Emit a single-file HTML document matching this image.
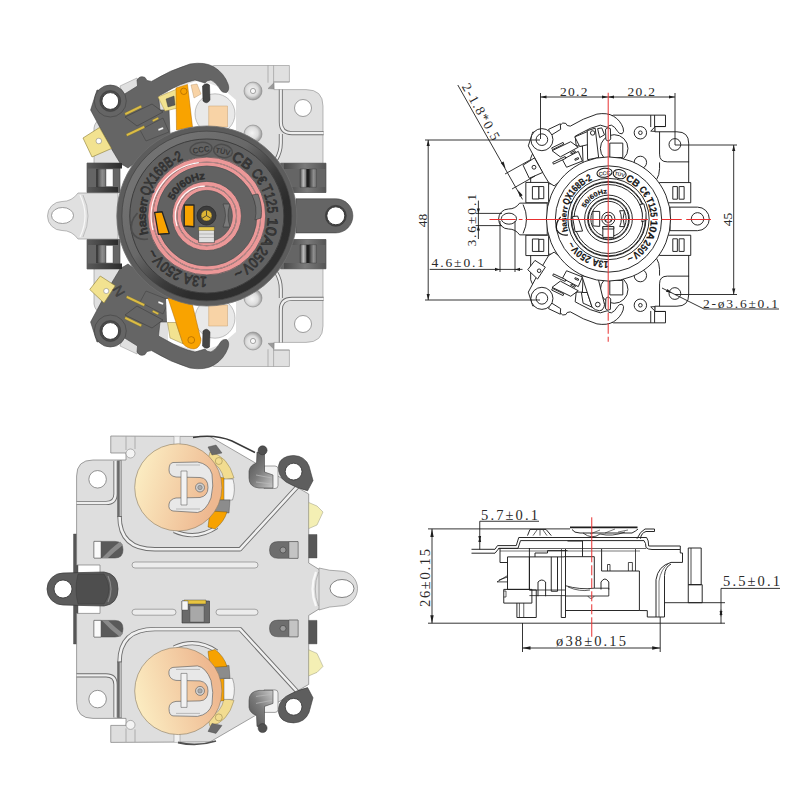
<!DOCTYPE html>
<html><head><meta charset="utf-8"><style>
html,body{margin:0;padding:0;background:#fff;}
svg{display:block;}
</style></head><body>
<svg width="800" height="800" viewBox="0 0 800 800" font-family="Liberation Sans, sans-serif">
<defs>
<linearGradient id="gold" x1="0" y1="0" x2="1" y2="0.3"><stop offset="0" stop-color="#fdf3c8"/><stop offset="1" stop-color="#eeb890"/></linearGradient>
<linearGradient id="rimg" x1="0.2" y1="0.15" x2="0.85" y2="0.8"><stop offset="0" stop-color="#727272"/><stop offset="0.35" stop-color="#686868"/><stop offset="0.62" stop-color="#3a3a3a"/><stop offset="0.8" stop-color="#2c2c2c"/><stop offset="1" stop-color="#2e2e2e"/></linearGradient>
<linearGradient id="cylA" x1="0" y1="0" x2="1" y2="0"><stop offset="0" stop-color="#4a4a4a"/><stop offset="0.5" stop-color="#bdbdbd"/><stop offset="1" stop-color="#6a6a6a"/></linearGradient>
<linearGradient id="cylB" x1="0" y1="0" x2="1" y2="0"><stop offset="0" stop-color="#222"/><stop offset="0.2" stop-color="#555"/><stop offset="0.6" stop-color="#8e8e8e"/><stop offset="1" stop-color="#707070"/></linearGradient>
<linearGradient id="bandL" x1="0" y1="0" x2="1" y2="0"><stop offset="0" stop-color="#5a5a5a"/><stop offset="1" stop-color="#2c2c2c"/></linearGradient>
<linearGradient id="bandR" x1="0" y1="0" x2="1" y2="0"><stop offset="0" stop-color="#4a4a4a"/><stop offset="0.5" stop-color="#7a7a7a"/><stop offset="1" stop-color="#555"/></linearGradient>
<radialGradient id="bump" cx="0.45" cy="0.45" r="0.55"><stop offset="0" stop-color="#f4f4f4"/><stop offset="0.6" stop-color="#dcdcdc"/><stop offset="1" stop-color="#9a9a9a"/></radialGradient>
<linearGradient id="lever" x1="0" y1="0" x2="1" y2="1"><stop offset="0" stop-color="#4e4e4e"/><stop offset="0.5" stop-color="#7a7a7a"/><stop offset="1" stop-color="#c8c8c8"/></linearGradient>
</defs>
<rect width="800" height="800" fill="#fff"/>
<g stroke-linejoin="round"><g><path d="M94,165 L94,128 Q95,121 101,119 L120,100 L214,65.5 L289.4,65.5 L289.4,82 L273.6,82 L274,89.6 L306,89.6 Q323,89.6 323,106 L323,165 Z" fill="#e0e0e0" stroke="#8e8e8e" stroke-width="0.6" /><path d="M280.8,89.6 L280.8,122 Q280.8,133.2 292,133.2 L323.6,133.2" fill="none" stroke="#6e6e6e" stroke-width="4.0" /><path d="M280.8,89.6 L280.8,122 Q280.8,133.2 292,133.2 L323.6,133.2" fill="none" stroke="#efefef" stroke-width="2.2" /><path d="M280.8,134 L280.8,143 Q280.8,152 276,160" fill="none" stroke="#6e6e6e" stroke-width="4.0" /><path d="M280.8,134 L280.8,143 Q280.8,152 276,160" fill="none" stroke="#efefef" stroke-width="2.2" /><path d="M268,65.5 L268,82.7 M273.6,65.5 L273.6,82 L289.4,82" fill="none" stroke="#909090" stroke-width="0.6" /><path d="M268,88.6 L274,82.7 L274,89 Z" fill="#9a9a9a" stroke="#777" stroke-width="0.4" /><circle cx="303" cy="108" r="8.5" fill="#ffffff" stroke="#777" stroke-width="0.7" /><circle cx="253" cy="91" r="9" fill="url(#bump)" stroke="#8a8a8a" stroke-width="0.6" /><circle cx="253" cy="91" r="2.6" fill="#f8f8f8" stroke="#707070" stroke-width="0.6" /><circle cx="253" cy="134" r="9" fill="url(#bump)" stroke="#8a8a8a" stroke-width="0.6" /><path d="M168,90 L200,80 L222,88 L236,100 L236,130 L168,132 Z" fill="#ffffff" stroke="none" stroke-width="0" /><circle cx="215" cy="113.8" r="20" fill="#e9e9e9" stroke="#9a9a9a" stroke-width="0.6" /><path d="M208.7,106 L227.5,106 L227.5,127 L208.7,127 Z" fill="#f8d3a6" stroke="#c9a070" stroke-width="0.5" /><path d="M191,85 L197,84 L201,94 L194,98 Z" fill="#f8d3a6" stroke="#b08a60" stroke-width="0.4" /><path d="M120,86 L137,78 L141,93 L124,100 Z" fill="#e0e0e0" stroke="#8e8e8e" stroke-width="0.5" /><path d="M90.6,110 L97,90 L123,95 L137.5,86 L137,80 Q140,75 145,77.5 L147,80.5 L151.5,81.4 Q170,70 190,64 Q205,61.5 214,67 Q224,73 228,84 Q230,90 226.5,92.5 Q222,93 220,89 Q216,82 211,80 Q207,80 205,83 L195,80 Q181,83 165,92.5 L158.5,96 L160,110 L169,110 L170,136 L128,168 L120,163 L111,148 Z" fill="#656565" stroke="#424242" stroke-width="0.6" /><circle cx="110.3" cy="101" r="16" fill="#656565" stroke="#424242" stroke-width="0.6" /><circle cx="110.3" cy="101" r="10.5" fill="#4a4a4a" stroke="#3a3a3a" stroke-width="0.5" /><circle cx="110.3" cy="101" r="8.4" fill="#ffffff" stroke="#2e2e2e" stroke-width="0.9" /><path d="M125,117 L152,104 L163,112 L137,126 Z" fill="none" stroke="#434343" stroke-width="0.7" /><path d="M140,130 L163,118 L169,132 L146,141 Z" fill="none" stroke="#434343" stroke-width="0.6" /><path d="M124.5,113 L141,105 L142,107.5 L125.5,115.5 Z" fill="#dcbc44" stroke="#5a5a40" stroke-width="0.4" /><path d="M126,134 L144,125.5 L145,128 L127,136.5 Z" fill="#dcbc44" stroke="#5a5a40" stroke-width="0.4" /><path d="M152,120 L158,117 L159,119 L153,122 Z" fill="#dcbc44" stroke="#5a5a40" stroke-width="0.4" /><path d="M158,129 L163,127 L163.5,129 L158.5,131 Z" fill="#ffffff" stroke="#555" stroke-width="0.3" /><path d="M202.5,86 Q206,82 209.5,85 L210,100 Q207,105 203,101 Z" fill="#454545" stroke="#222" stroke-width="0.5" /><path d="M87,163 L120,163 L120,192.5 L87,192.5 Z" fill="#656565" stroke="#424242" stroke-width="0.6" /><path d="M87,163 L122,163 L122,168.5 L87,168.5 Z" fill="url(#bandL)" stroke="none" stroke-width="0" /><path d="M87,187 L118,187 L118,192.5 L87,192.5 Z" fill="url(#bandL)" stroke="none" stroke-width="0" /><path d="M96.5,169 L106,169 L106,187 L96.5,187 Z" fill="url(#cylB)" stroke="#333" stroke-width="0.4" /><path d="M106,169 L113,169 L113,186.5 L106,186.5 Z" fill="#fbfbfb" stroke="#444" stroke-width="0.4" /><path d="M280.6,163.2 L326,163.2 L326,192.5 L280.6,192.5 Z" fill="#656565" stroke="#424242" stroke-width="0.6" /><path d="M284,163.2 L326,163.2 L326,169 L284,169 Z" fill="url(#bandR)" stroke="none" stroke-width="0" /><path d="M288,187 L326,187 L326,192.5 L288,192.5 Z" fill="url(#bandR)" stroke="none" stroke-width="0" /><path d="M300,169 L306.6,169 L306.6,187.3 L300,187.3 Z" fill="url(#cylA)" stroke="#3a3a3a" stroke-width="0.4" /><path d="M306.6,169 L309.2,169 L309.2,187.3 L306.6,187.3 Z" fill="#1e1e1e" stroke="none" stroke-width="0" /><path d="M309.2,169 L316.4,169 L316.4,187.3 L309.2,187.3 Z" fill="url(#cylB)" stroke="#3a3a3a" stroke-width="0.4" /></g><g transform="translate(0,432) scale(1,-1)"><path d="M94,165 L94,128 Q95,121 101,119 L120,100 L214,65.5 L289.4,65.5 L289.4,82 L273.6,82 L274,89.6 L306,89.6 Q323,89.6 323,106 L323,165 Z" fill="#e0e0e0" stroke="#8e8e8e" stroke-width="0.6" /><path d="M280.8,89.6 L280.8,122 Q280.8,133.2 292,133.2 L323.6,133.2" fill="none" stroke="#6e6e6e" stroke-width="4.0" /><path d="M280.8,89.6 L280.8,122 Q280.8,133.2 292,133.2 L323.6,133.2" fill="none" stroke="#efefef" stroke-width="2.2" /><path d="M280.8,134 L280.8,143 Q280.8,152 276,160" fill="none" stroke="#6e6e6e" stroke-width="4.0" /><path d="M280.8,134 L280.8,143 Q280.8,152 276,160" fill="none" stroke="#efefef" stroke-width="2.2" /><path d="M268,65.5 L268,82.7 M273.6,65.5 L273.6,82 L289.4,82" fill="none" stroke="#909090" stroke-width="0.6" /><path d="M268,88.6 L274,82.7 L274,89 Z" fill="#9a9a9a" stroke="#777" stroke-width="0.4" /><circle cx="303" cy="108" r="8.5" fill="#ffffff" stroke="#777" stroke-width="0.7" /><circle cx="253" cy="91" r="9" fill="url(#bump)" stroke="#8a8a8a" stroke-width="0.6" /><circle cx="253" cy="91" r="2.6" fill="#f8f8f8" stroke="#707070" stroke-width="0.6" /><circle cx="253" cy="134" r="9" fill="url(#bump)" stroke="#8a8a8a" stroke-width="0.6" /><path d="M168,90 L200,80 L222,88 L236,100 L236,130 L168,132 Z" fill="#ffffff" stroke="none" stroke-width="0" /><circle cx="215" cy="113.8" r="20" fill="#e9e9e9" stroke="#9a9a9a" stroke-width="0.6" /><path d="M208.7,106 L227.5,106 L227.5,127 L208.7,127 Z" fill="#f8d3a6" stroke="#c9a070" stroke-width="0.5" /><path d="M191,85 L197,84 L201,94 L194,98 Z" fill="#f8d3a6" stroke="#b08a60" stroke-width="0.4" /><path d="M120,86 L137,78 L141,93 L124,100 Z" fill="#e0e0e0" stroke="#8e8e8e" stroke-width="0.5" /><path d="M90.6,110 L97,90 L123,95 L137.5,86 L137,80 Q140,75 145,77.5 L147,80.5 L151.5,81.4 Q170,70 190,64 Q205,61.5 214,67 Q224,73 228,84 Q230,90 226.5,92.5 Q222,93 220,89 Q216,82 211,80 Q207,80 205,83 L195,80 Q181,83 165,92.5 L158.5,96 L160,110 L169,110 L170,136 L128,168 L120,163 L111,148 Z" fill="#656565" stroke="#424242" stroke-width="0.6" /><circle cx="110.3" cy="101" r="16" fill="#656565" stroke="#424242" stroke-width="0.6" /><circle cx="110.3" cy="101" r="10.5" fill="#4a4a4a" stroke="#3a3a3a" stroke-width="0.5" /><circle cx="110.3" cy="101" r="8.4" fill="#ffffff" stroke="#2e2e2e" stroke-width="0.9" /><path d="M125,117 L152,104 L163,112 L137,126 Z" fill="none" stroke="#434343" stroke-width="0.7" /><path d="M140,130 L163,118 L169,132 L146,141 Z" fill="none" stroke="#434343" stroke-width="0.6" /><path d="M124.5,113 L141,105 L142,107.5 L125.5,115.5 Z" fill="#dcbc44" stroke="#5a5a40" stroke-width="0.4" /><path d="M126,134 L144,125.5 L145,128 L127,136.5 Z" fill="#dcbc44" stroke="#5a5a40" stroke-width="0.4" /><path d="M152,120 L158,117 L159,119 L153,122 Z" fill="#dcbc44" stroke="#5a5a40" stroke-width="0.4" /><path d="M158,129 L163,127 L163.5,129 L158.5,131 Z" fill="#ffffff" stroke="#555" stroke-width="0.3" /><path d="M202.5,86 Q206,82 209.5,85 L210,100 Q207,105 203,101 Z" fill="#454545" stroke="#222" stroke-width="0.5" /><path d="M87,163 L120,163 L120,192.5 L87,192.5 Z" fill="#656565" stroke="#424242" stroke-width="0.6" /><path d="M87,163 L122,163 L122,168.5 L87,168.5 Z" fill="url(#bandL)" stroke="none" stroke-width="0" /><path d="M87,187 L118,187 L118,192.5 L87,192.5 Z" fill="url(#bandL)" stroke="none" stroke-width="0" /><path d="M96.5,169 L106,169 L106,187 L96.5,187 Z" fill="url(#cylB)" stroke="#333" stroke-width="0.4" /><path d="M106,169 L113,169 L113,186.5 L106,186.5 Z" fill="#fbfbfb" stroke="#444" stroke-width="0.4" /><path d="M280.6,163.2 L326,163.2 L326,192.5 L280.6,192.5 Z" fill="#656565" stroke="#424242" stroke-width="0.6" /><path d="M284,163.2 L326,163.2 L326,169 L284,169 Z" fill="url(#bandR)" stroke="none" stroke-width="0" /><path d="M288,187 L326,187 L326,192.5 L288,192.5 Z" fill="url(#bandR)" stroke="none" stroke-width="0" /><path d="M300,169 L306.6,169 L306.6,187.3 L300,187.3 Z" fill="url(#cylA)" stroke="#3a3a3a" stroke-width="0.4" /><path d="M306.6,169 L309.2,169 L309.2,187.3 L306.6,187.3 Z" fill="#1e1e1e" stroke="none" stroke-width="0" /><path d="M309.2,169 L316.4,169 L316.4,187.3 L309.2,187.3 Z" fill="url(#cylB)" stroke="#3a3a3a" stroke-width="0.4" /></g><path d="M83,138 L99.5,127.5 L111.5,148.5 L92,157 Z" fill="#f2e290" stroke="#8a7a30" stroke-width="0.6" /><circle cx="98.8" cy="141" r="2.8" fill="#ffffff" stroke="#777" stroke-width="0.5" /><path d="M89.75,289.5 L100.25,276 L115.25,285.75 L104,303 Z" fill="#f2e290" stroke="#8a7a30" stroke-width="0.6" /><circle cx="106.25" cy="291" r="2.6" fill="#ffffff" stroke="#777" stroke-width="0.5" /><path d="M158,97 L177,89 L178,108 L165,111 Z" fill="#f2e290" stroke="#a89040" stroke-width="0.5" /><path d="M166,99 L174,96 L175,105 L168,107 Z" fill="#5a5a5a" stroke="#333" stroke-width="0.4" /><path d="M176,88 L187.5,84.4 L192.5,127 L176.5,130 Z" fill="#f9a300" stroke="#b06a00" stroke-width="0.5" /><circle cx="183.8" cy="91.3" r="3.2" fill="none" stroke="#9a5a00" stroke-width="0.6" /><path d="M166,299 L176,299 L176,322.5 L167,322.5 Z" fill="#ffffff" stroke="none" stroke-width="0" /><path d="M167.5,322.5 L176,322.5 L183,343.75 L170,338 Z" fill="#f2e290" stroke="#8a7a40" stroke-width="0.5" /><path d="M168,298 L192,303 L201,340 Q200.5,347.5 194,349 Q187,348.5 183,343.75 Z" fill="#f9a300" stroke="#b06a00" stroke-width="0.5" /><circle cx="191.25" cy="340" r="3.4" fill="none" stroke="#9a5a00" stroke-width="0.6" /><text x="0" y="0" font-size="14" fill="#444" stroke="#3a3a3a" stroke-width="0.4" transform="translate(112,289) rotate(60)">N</text><path d="M118,193 L78,193 Q72,201.5 62,201.5 A13.5,13.5 0 0 0 62,230.5 Q72,230.5 78,239 L118,239 Z" fill="#e0e0e0" stroke="#8e8e8e" stroke-width="0.6" /><path d="M80,195 Q90,216 80,237" fill="none" stroke="#f8f8f8" stroke-width="1.2" /><path d="M83,195 Q93,216 83,237" fill="none" stroke="#a4a4a4" stroke-width="0.6" /><ellipse cx="62.5" cy="215.5" rx="11" ry="8" fill="#fff" stroke="#777" stroke-width="0.7"/><path d="M296,198.8 L335.8,198.8 A17,17 0 0 1 335.8,232.9 L296,232.9 Z" fill="#656565" stroke="#424242" stroke-width="0.6" /><circle cx="335.8" cy="215.8" r="10.5" fill="#454545" stroke="#333" stroke-width="0.5" /><circle cx="335.8" cy="215.8" r="9" fill="#ffffff" stroke="#2e2e2e" stroke-width="0.9" /><circle cx="206.8" cy="216" r="90" fill="#5c5c5c" stroke="#707070" stroke-width="0.8" /><circle cx="206.8" cy="216" r="81" fill="none" stroke="url(#rimg)" stroke-width="7.6"/><circle cx="206.8" cy="216" r="84.9" fill="none" stroke="#404040" stroke-width="0.7" /><circle cx="206.8" cy="216" r="77" fill="#626262" stroke="#3a3a3a" stroke-width="0.9" /><circle cx="206.8" cy="216" r="56.6" fill="none" stroke="#ec9898" stroke-width="4.6"/><circle cx="206.8" cy="216" r="51.7" fill="none" stroke="#ec9898" stroke-width="3.4"/><circle cx="206.8" cy="216" r="32.4" fill="none" stroke="#ec9898" stroke-width="4.4"/><circle cx="206.8" cy="216" r="27.4" fill="none" stroke="#ec9898" stroke-width="3.6"/><circle cx="206.8" cy="216" r="54.1" fill="none" stroke="#b88888" stroke-width="1.0" /><circle cx="206.8" cy="216" r="29.9" fill="none" stroke="#b88888" stroke-width="1.0" /><circle cx="206.8" cy="216" r="58.9" fill="none" stroke="#4a5252" stroke-width="0.7" /><circle cx="206.8" cy="216" r="50.0" fill="none" stroke="#4a5252" stroke-width="0.7" /><circle cx="206.8" cy="216" r="34.6" fill="none" stroke="#4a5252" stroke-width="0.7" /><circle cx="206.8" cy="216" r="25.6" fill="none" stroke="#4a5252" stroke-width="0.7" /><path d="M152.9,230 A54,54 0 0 1 198.8,162.6" fill="none" stroke="#fff8f8" stroke-width="1.3" /><path d="M177.0,226 A29.9,29.9 0 0 1 204.8,186.2" fill="none" stroke="#fff8f8" stroke-width="1.2" /><path d="M154.6,212.5 L162.1,211.75 L169.25,233.5 L158.4,234.25 Z" fill="#f9a300" stroke="#262626" stroke-width="1.3" /><path d="M184.25,205 L194,205 L194,226.75 L184.25,226 Z" fill="#f9a300" stroke="#262626" stroke-width="1.3" /><path d="M223,204 Q228,215.5 223,227 L230,227 Q226,215.5 230,204 Z" fill="#7a7a7a" stroke="#333" stroke-width="0.5" /><path d="M252,195 Q258,207 255,220 L261,218 Q263,207 258,194 Z" fill="#727272" stroke="#333" stroke-width="0.5" /><path d="M198.6,227 L214.4,227 L214.4,242.7 L198.6,242.7 Z" fill="#e0e0e0" stroke="#333" stroke-width="0.6" /><path d="M198.6,227 L214.4,227 L214.4,230.5 L198.6,230.5 Z" fill="#e6c648" stroke="#333" stroke-width="0.3" /><path d="M199,234 L214,234 M199,237.5 L214,237.5" fill="none" stroke="#9a9a9a" stroke-width="0.6" /><circle cx="206.5" cy="215.6" r="9.5" fill="#3c3c3c" stroke="#222" stroke-width="0.6" /><circle cx="206.5" cy="215.6" r="5.5" fill="#dcb434" stroke="#333" stroke-width="0.5" /><path d="M206.5,215.6 L206.5,210.5 M206.5,215.6 L202,218.3 M206.5,215.6 L211,218.3" fill="none" stroke="#333" stroke-width="0.8" /><path id="p1a1" d="M206.80,277.00 A61,61 0 1,1 206.80,155.00 A61,61 0 1,1 206.80,277.00" fill="none"/><path id="p1a2" d="M206.80,253.00 A37,37 0 1,1 206.80,179.00 A37,37 0 1,1 206.80,253.00" fill="none"/><text font-size="14.5" font-weight="normal" fill="#4c4c4c" stroke="#323232" stroke-width="0.9"><textPath href="#p1a1" startOffset="115.5" textLength="52" lengthAdjust="spacingAndGlyphs">QX168B-2</textPath></text><text font-size="14.5" font-weight="normal" fill="#4c4c4c" stroke="#323232" stroke-width="0.9"><textPath href="#p1a1" startOffset="216.1" textLength="20" lengthAdjust="spacingAndGlyphs">CB</textPath></text><text font-size="14" font-weight="normal" fill="#4c4c4c" stroke="#323232" stroke-width="0.9"><textPath href="#p1a1" startOffset="240.1" textLength="15" lengthAdjust="spacingAndGlyphs">C€</textPath></text><text font-size="14.5" font-weight="normal" fill="#4c4c4c" stroke="#323232" stroke-width="0.9"><textPath href="#p1a1" startOffset="257.6" textLength="27" lengthAdjust="spacingAndGlyphs">T125</textPath></text><text font-size="14.5" font-weight="normal" fill="#4c4c4c" stroke="#323232" stroke-width="0.9"><textPath href="#p1a1" startOffset="288.5" textLength="28" lengthAdjust="spacingAndGlyphs">10A</textPath></text><text font-size="14.5" font-weight="normal" fill="#4c4c4c" stroke="#323232" stroke-width="0.9"><textPath href="#p1a1" startOffset="317.8" textLength="29" lengthAdjust="spacingAndGlyphs">250V</textPath></text><text font-size="13" font-weight="normal" fill="#4c4c4c" stroke="#323232" stroke-width="0.9"><textPath href="#p1a1" startOffset="348.1" textLength="8" lengthAdjust="spacingAndGlyphs">~</textPath></text><text font-size="14.5" font-weight="normal" fill="#4c4c4c" stroke="#323232" stroke-width="0.9"><textPath href="#p1a1" startOffset="0.0" textLength="54" lengthAdjust="spacingAndGlyphs">13A 250V</textPath></text><text font-size="13" font-weight="normal" fill="#4c4c4c" stroke="#323232" stroke-width="0.9"><textPath href="#p1a1" startOffset="54.3" textLength="8" lengthAdjust="spacingAndGlyphs">~</textPath></text><text font-size="9.5" font-weight="normal" fill="#4c4c4c" stroke="#323232" stroke-width="0.9"><textPath href="#p1a2" startOffset="74.3" textLength="40" lengthAdjust="spacingAndGlyphs">50/60Hz</textPath></text><text font-size="11.5" font-weight="normal" fill="#4c4c4c" stroke="#323232" stroke-width="0.9"><textPath href="#p1a1" startOffset="77.7" textLength="36" lengthAdjust="spacingAndGlyphs">haserr</textPath></text><ellipse cx="201" cy="149" rx="11" ry="6.5" fill="none" stroke="#4c4c4c" stroke-width="1.5" transform="rotate(-8 201 149)"/><ellipse cx="223" cy="151" rx="9.5" ry="6.5" fill="none" stroke="#4c4c4c" stroke-width="1.5" transform="rotate(12 223 151)"/><text x="201" y="152.5" font-size="8" font-weight="bold" fill="#3a3a3a" text-anchor="middle" transform="rotate(-8 201 149)">CCC</text><text x="223" y="154" font-size="7.5" font-weight="bold" fill="#3a3a3a" text-anchor="middle" transform="rotate(12 223 151)">TÜV</text><path d="M137.5,213 Q129,222 132,232 Q137,241 148,239" fill="none" stroke="#4c4c4c" stroke-width="1.7"/></g>
<g transform="translate(608.5,219) scale(0.69) translate(-206.8,-216)"><g stroke-linejoin="round"><g><path d="M94,165 L94,128 Q95,121 101,119 L120,100 L214,65.5 L289.4,65.5 L289.4,82 L273.6,82 L274,89.6 L306,89.6 Q323,89.6 323,106 L323,165 Z" fill="#ffffff" stroke="#1a1a1a" stroke-width="1.35" /><path d="M280.8,89.6 L280.8,122 Q280.8,133.2 292,133.2 L323.6,133.2" fill="none" stroke="#1a1a1a" stroke-width="1.35" /><path d="M280.8,134 L280.8,143 Q280.8,152 276,160" fill="none" stroke="#1a1a1a" stroke-width="1.35" /><path d="M268,65.5 L268,82.7 M273.6,65.5 L273.6,82 L289.4,82" fill="none" stroke="#1a1a1a" stroke-width="1.35" /><path d="M268,88.6 L274,82.7 L274,89 Z" fill="#ffffff" stroke="#1a1a1a" stroke-width="1.35" /><circle cx="303" cy="108" r="8.5" fill="#ffffff" stroke="#1a1a1a" stroke-width="1.35" /><circle cx="253" cy="91" r="9" fill="#ffffff" stroke="#1a1a1a" stroke-width="1.35" /><circle cx="253" cy="91" r="2.6" fill="#ffffff" stroke="#1a1a1a" stroke-width="1.35" /><circle cx="253" cy="134" r="9" fill="#ffffff" stroke="#1a1a1a" stroke-width="1.35" /><circle cx="215" cy="113.8" r="20" fill="#ffffff" stroke="#1a1a1a" stroke-width="1.35" /><path d="M208.7,106 L227.5,106 L227.5,127 L208.7,127 Z" fill="#ffffff" stroke="#1a1a1a" stroke-width="1.35" /><path d="M191,85 L197,84 L201,94 L194,98 Z" fill="#ffffff" stroke="#1a1a1a" stroke-width="1.35" /><path d="M120,86 L137,78 L141,93 L124,100 Z" fill="#ffffff" stroke="#1a1a1a" stroke-width="1.35" /><path d="M90.6,110 L97,90 L123,95 L137.5,86 L137,80 Q140,75 145,77.5 L147,80.5 L151.5,81.4 Q170,70 190,64 Q205,61.5 214,67 Q224,73 228,84 Q230,90 226.5,92.5 Q222,93 220,89 Q216,82 211,80 Q207,80 205,83 L195,80 Q181,83 165,92.5 L158.5,96 L160,110 L169,110 L170,136 L128,168 L120,163 L111,148 Z" fill="#ffffff" stroke="#1a1a1a" stroke-width="1.35" /><circle cx="110.3" cy="101" r="16" fill="#ffffff" stroke="#1a1a1a" stroke-width="1.35" /><circle cx="110.3" cy="101" r="8.4" fill="#ffffff" stroke="#1a1a1a" stroke-width="1.35" /><path d="M125,117 L152,104 L163,112 L137,126 Z" fill="none" stroke="#1a1a1a" stroke-width="1.35" /><path d="M140,130 L163,118 L169,132 L146,141 Z" fill="none" stroke="#1a1a1a" stroke-width="1.35" /><path d="M124.5,113 L141,105 L142,107.5 L125.5,115.5 Z" fill="#ffffff" stroke="#1a1a1a" stroke-width="1.35" /><path d="M126,134 L144,125.5 L145,128 L127,136.5 Z" fill="#ffffff" stroke="#1a1a1a" stroke-width="1.35" /><path d="M152,120 L158,117 L159,119 L153,122 Z" fill="#ffffff" stroke="#1a1a1a" stroke-width="1.35" /><path d="M158,129 L163,127 L163.5,129 L158.5,131 Z" fill="#ffffff" stroke="#1a1a1a" stroke-width="1.35" /><path d="M202.5,86 Q206,82 209.5,85 L210,100 Q207,105 203,101 Z" fill="#ffffff" stroke="#1a1a1a" stroke-width="1.35" /><path d="M87,163 L120,163 L120,192.5 L87,192.5 Z" fill="#ffffff" stroke="#1a1a1a" stroke-width="1.35" /><path d="M96.5,169 L106,169 L106,187 L96.5,187 Z" fill="#ffffff" stroke="#1a1a1a" stroke-width="1.35" /><path d="M106,169 L113,169 L113,186.5 L106,186.5 Z" fill="#ffffff" stroke="#1a1a1a" stroke-width="1.35" /><path d="M280.6,163.2 L326,163.2 L326,192.5 L280.6,192.5 Z" fill="#ffffff" stroke="#1a1a1a" stroke-width="1.35" /><path d="M300,169 L306.6,169 L306.6,187.3 L300,187.3 Z" fill="#ffffff" stroke="#1a1a1a" stroke-width="1.35" /><path d="M309.2,169 L316.4,169 L316.4,187.3 L309.2,187.3 Z" fill="#ffffff" stroke="#1a1a1a" stroke-width="1.35" /></g><g transform="translate(0,432) scale(1,-1)"><path d="M94,165 L94,128 Q95,121 101,119 L120,100 L214,65.5 L289.4,65.5 L289.4,82 L273.6,82 L274,89.6 L306,89.6 Q323,89.6 323,106 L323,165 Z" fill="#ffffff" stroke="#1a1a1a" stroke-width="1.35" /><path d="M280.8,89.6 L280.8,122 Q280.8,133.2 292,133.2 L323.6,133.2" fill="none" stroke="#1a1a1a" stroke-width="1.35" /><path d="M280.8,134 L280.8,143 Q280.8,152 276,160" fill="none" stroke="#1a1a1a" stroke-width="1.35" /><path d="M268,65.5 L268,82.7 M273.6,65.5 L273.6,82 L289.4,82" fill="none" stroke="#1a1a1a" stroke-width="1.35" /><path d="M268,88.6 L274,82.7 L274,89 Z" fill="#ffffff" stroke="#1a1a1a" stroke-width="1.35" /><circle cx="303" cy="108" r="8.5" fill="#ffffff" stroke="#1a1a1a" stroke-width="1.35" /><circle cx="253" cy="91" r="9" fill="#ffffff" stroke="#1a1a1a" stroke-width="1.35" /><circle cx="253" cy="91" r="2.6" fill="#ffffff" stroke="#1a1a1a" stroke-width="1.35" /><circle cx="253" cy="134" r="9" fill="#ffffff" stroke="#1a1a1a" stroke-width="1.35" /><circle cx="215" cy="113.8" r="20" fill="#ffffff" stroke="#1a1a1a" stroke-width="1.35" /><path d="M208.7,106 L227.5,106 L227.5,127 L208.7,127 Z" fill="#ffffff" stroke="#1a1a1a" stroke-width="1.35" /><path d="M191,85 L197,84 L201,94 L194,98 Z" fill="#ffffff" stroke="#1a1a1a" stroke-width="1.35" /><path d="M120,86 L137,78 L141,93 L124,100 Z" fill="#ffffff" stroke="#1a1a1a" stroke-width="1.35" /><path d="M90.6,110 L97,90 L123,95 L137.5,86 L137,80 Q140,75 145,77.5 L147,80.5 L151.5,81.4 Q170,70 190,64 Q205,61.5 214,67 Q224,73 228,84 Q230,90 226.5,92.5 Q222,93 220,89 Q216,82 211,80 Q207,80 205,83 L195,80 Q181,83 165,92.5 L158.5,96 L160,110 L169,110 L170,136 L128,168 L120,163 L111,148 Z" fill="#ffffff" stroke="#1a1a1a" stroke-width="1.35" /><circle cx="110.3" cy="101" r="16" fill="#ffffff" stroke="#1a1a1a" stroke-width="1.35" /><circle cx="110.3" cy="101" r="8.4" fill="#ffffff" stroke="#1a1a1a" stroke-width="1.35" /><path d="M125,117 L152,104 L163,112 L137,126 Z" fill="none" stroke="#1a1a1a" stroke-width="1.35" /><path d="M140,130 L163,118 L169,132 L146,141 Z" fill="none" stroke="#1a1a1a" stroke-width="1.35" /><path d="M124.5,113 L141,105 L142,107.5 L125.5,115.5 Z" fill="#ffffff" stroke="#1a1a1a" stroke-width="1.35" /><path d="M126,134 L144,125.5 L145,128 L127,136.5 Z" fill="#ffffff" stroke="#1a1a1a" stroke-width="1.35" /><path d="M152,120 L158,117 L159,119 L153,122 Z" fill="#ffffff" stroke="#1a1a1a" stroke-width="1.35" /><path d="M158,129 L163,127 L163.5,129 L158.5,131 Z" fill="#ffffff" stroke="#1a1a1a" stroke-width="1.35" /><path d="M202.5,86 Q206,82 209.5,85 L210,100 Q207,105 203,101 Z" fill="#ffffff" stroke="#1a1a1a" stroke-width="1.35" /><path d="M87,163 L120,163 L120,192.5 L87,192.5 Z" fill="#ffffff" stroke="#1a1a1a" stroke-width="1.35" /><path d="M96.5,169 L106,169 L106,187 L96.5,187 Z" fill="#ffffff" stroke="#1a1a1a" stroke-width="1.35" /><path d="M106,169 L113,169 L113,186.5 L106,186.5 Z" fill="#ffffff" stroke="#1a1a1a" stroke-width="1.35" /><path d="M280.6,163.2 L326,163.2 L326,192.5 L280.6,192.5 Z" fill="#ffffff" stroke="#1a1a1a" stroke-width="1.35" /><path d="M300,169 L306.6,169 L306.6,187.3 L300,187.3 Z" fill="#ffffff" stroke="#1a1a1a" stroke-width="1.35" /><path d="M309.2,169 L316.4,169 L316.4,187.3 L309.2,187.3 Z" fill="#ffffff" stroke="#1a1a1a" stroke-width="1.35" /></g><path d="M83,138 L99.5,127.5 L111.5,148.5 L92,157 Z" fill="#ffffff" stroke="#1a1a1a" stroke-width="1.35" /><circle cx="98.8" cy="141" r="2.8" fill="#ffffff" stroke="#1a1a1a" stroke-width="1.35" /><path d="M89.75,289.5 L100.25,276 L115.25,285.75 L104,303 Z" fill="#ffffff" stroke="#1a1a1a" stroke-width="1.35" /><circle cx="106.25" cy="291" r="2.6" fill="#ffffff" stroke="#1a1a1a" stroke-width="1.35" /><path d="M158,97 L177,89 L178,108 L165,111 Z" fill="#ffffff" stroke="#1a1a1a" stroke-width="1.35" /><path d="M176,88 L187.5,84.4 L192.5,127 L176.5,130 Z" fill="#ffffff" stroke="#1a1a1a" stroke-width="1.35" /><circle cx="183.8" cy="91.3" r="3.2" fill="none" stroke="#1a1a1a" stroke-width="1.35" /><path d="M167.5,322.5 L176,322.5 L183,343.75 L170,338 Z" fill="#ffffff" stroke="#1a1a1a" stroke-width="1.35" /><path d="M168,298 L192,303 L201,340 Q200.5,347.5 194,349 Q187,348.5 183,343.75 Z" fill="#ffffff" stroke="#1a1a1a" stroke-width="1.35" /><circle cx="191.25" cy="340" r="3.4" fill="none" stroke="#1a1a1a" stroke-width="1.35" /><path d="M118,193 L78,193 Q72,201.5 62,201.5 A13.5,13.5 0 0 0 62,230.5 Q72,230.5 78,239 L118,239 Z" fill="#ffffff" stroke="#1a1a1a" stroke-width="1.35" /><path d="M83,195 Q93,216 83,237" fill="none" stroke="#1a1a1a" stroke-width="1.35" /><ellipse cx="62.5" cy="215.5" rx="11" ry="8" fill="#fff" stroke="#1a1a1a" stroke-width="1.35"/><path d="M296,198.8 L335.8,198.8 A17,17 0 0 1 335.8,232.9 L296,232.9 Z" fill="#ffffff" stroke="#1a1a1a" stroke-width="1.35" /><circle cx="335.8" cy="215.8" r="9" fill="#ffffff" stroke="#1a1a1a" stroke-width="1.35" /><circle cx="206.8" cy="216" r="90" fill="#ffffff" stroke="#1a1a1a" stroke-width="1.35" /><circle cx="206.8" cy="216" r="77" fill="#ffffff" stroke="#1a1a1a" stroke-width="1.35" /><circle cx="206.8" cy="216" r="58.9" fill="none" stroke="#1a1a1a" stroke-width="1.35"/><circle cx="206.8" cy="216" r="54.300000000000004" fill="none" stroke="#1a1a1a" stroke-width="1.35"/><circle cx="206.8" cy="216" r="53.400000000000006" fill="none" stroke="#1a1a1a" stroke-width="1.35"/><circle cx="206.8" cy="216" r="50.0" fill="none" stroke="#1a1a1a" stroke-width="1.35"/><circle cx="206.8" cy="216" r="34.6" fill="none" stroke="#1a1a1a" stroke-width="1.35"/><circle cx="206.8" cy="216" r="30.2" fill="none" stroke="#1a1a1a" stroke-width="1.35"/><circle cx="206.8" cy="216" r="29.2" fill="none" stroke="#1a1a1a" stroke-width="1.35"/><circle cx="206.8" cy="216" r="25.599999999999998" fill="none" stroke="#1a1a1a" stroke-width="1.35"/><path d="M154.6,212.5 L162.1,211.75 L169.25,233.5 L158.4,234.25 Z" fill="#ffffff" stroke="#1a1a1a" stroke-width="1.35" /><path d="M184.25,205 L194,205 L194,226.75 L184.25,226 Z" fill="#ffffff" stroke="#1a1a1a" stroke-width="1.35" /><path d="M223,204 Q228,215.5 223,227 L230,227 Q226,215.5 230,204 Z" fill="#ffffff" stroke="#1a1a1a" stroke-width="1.35" /><path d="M252,195 Q258,207 255,220 L261,218 Q263,207 258,194 Z" fill="#ffffff" stroke="#1a1a1a" stroke-width="1.35" /><path d="M198.6,227 L214.4,227 L214.4,242.7 L198.6,242.7 Z" fill="#ffffff" stroke="#1a1a1a" stroke-width="1.35" /><path d="M198.6,227 L214.4,227 L214.4,230.5 L198.6,230.5 Z" fill="#ffffff" stroke="#1a1a1a" stroke-width="1.35" /><circle cx="206.5" cy="215.6" r="9.5" fill="#ffffff" stroke="#1a1a1a" stroke-width="1.35" /><circle cx="206.5" cy="215.6" r="5.5" fill="#ffffff" stroke="#1a1a1a" stroke-width="1.35" /><path d="M206.5,215.6 L206.5,210.5 M206.5,215.6 L202,218.3 M206.5,215.6 L211,218.3" fill="none" stroke="#1a1a1a" stroke-width="1.35" /><path id="p2a1" d="M206.80,277.00 A61,61 0 1,1 206.80,155.00 A61,61 0 1,1 206.80,277.00" fill="none"/><path id="p2a2" d="M206.80,253.00 A37,37 0 1,1 206.80,179.00 A37,37 0 1,1 206.80,253.00" fill="none"/><text font-size="14.5" font-weight="bold" fill="#141414" stroke="#141414" stroke-width="0.3"><textPath href="#p2a1" startOffset="115.5" textLength="52" lengthAdjust="spacingAndGlyphs">QX168B-2</textPath></text><text font-size="14.5" font-weight="bold" fill="#141414" stroke="#141414" stroke-width="0.3"><textPath href="#p2a1" startOffset="216.1" textLength="20" lengthAdjust="spacingAndGlyphs">CB</textPath></text><text font-size="14" font-weight="bold" fill="#141414" stroke="#141414" stroke-width="0.3"><textPath href="#p2a1" startOffset="240.1" textLength="15" lengthAdjust="spacingAndGlyphs">C€</textPath></text><text font-size="14.5" font-weight="bold" fill="#141414" stroke="#141414" stroke-width="0.3"><textPath href="#p2a1" startOffset="257.6" textLength="27" lengthAdjust="spacingAndGlyphs">T125</textPath></text><text font-size="14.5" font-weight="bold" fill="#141414" stroke="#141414" stroke-width="0.3"><textPath href="#p2a1" startOffset="288.5" textLength="28" lengthAdjust="spacingAndGlyphs">10A</textPath></text><text font-size="14.5" font-weight="bold" fill="#141414" stroke="#141414" stroke-width="0.3"><textPath href="#p2a1" startOffset="317.8" textLength="29" lengthAdjust="spacingAndGlyphs">250V</textPath></text><text font-size="13" font-weight="bold" fill="#141414" stroke="#141414" stroke-width="0.3"><textPath href="#p2a1" startOffset="348.1" textLength="8" lengthAdjust="spacingAndGlyphs">~</textPath></text><text font-size="14.5" font-weight="bold" fill="#141414" stroke="#141414" stroke-width="0.3"><textPath href="#p2a1" startOffset="0.0" textLength="54" lengthAdjust="spacingAndGlyphs">13A 250V</textPath></text><text font-size="13" font-weight="bold" fill="#141414" stroke="#141414" stroke-width="0.3"><textPath href="#p2a1" startOffset="54.3" textLength="8" lengthAdjust="spacingAndGlyphs">~</textPath></text><text font-size="9.5" font-weight="bold" fill="#141414" stroke="#141414" stroke-width="0.3"><textPath href="#p2a2" startOffset="74.3" textLength="40" lengthAdjust="spacingAndGlyphs">50/60Hz</textPath></text><text font-size="11.5" font-weight="bold" fill="#141414" stroke="#141414" stroke-width="0.3"><textPath href="#p2a1" startOffset="77.7" textLength="36" lengthAdjust="spacingAndGlyphs">haserr</textPath></text><ellipse cx="201" cy="149" rx="11" ry="6.5" fill="none" stroke="#141414" stroke-width="1.5" transform="rotate(-8 201 149)"/><ellipse cx="223" cy="151" rx="9.5" ry="6.5" fill="none" stroke="#141414" stroke-width="1.5" transform="rotate(12 223 151)"/><text x="201" y="152.5" font-size="8" font-weight="bold" fill="#3a3a3a" text-anchor="middle" transform="rotate(-8 201 149)">CCC</text><text x="223" y="154" font-size="7.5" font-weight="bold" fill="#3a3a3a" text-anchor="middle" transform="rotate(12 223 151)">TÜV</text><path d="M137.5,213 Q129,222 132,232 Q137,241 148,239" fill="none" stroke="#141414" stroke-width="1.7"/></g></g>
<g><path d="M73.5,534 L78,534 L78,644 L73.5,644 Z" fill="#565656" stroke="#444" stroke-width="0.4" stroke-linejoin="round" /><path d="M110.75,436 L210,436.5 L308.7,494 L308.7,563 L320,570 L320,608.4 L308.7,615.4 L308.7,684.4 L210,741.9 L110.75,742.4 L110.75,725.4 L126,725.4 L126,718.4 L93,718.4 Q76.6,718.4 76.6,702.4 L76.6,613.4 L100,613.4 L100,565 L76.6,565 L76.6,476 Q76.6,460 93,460 L126,460 L126,453 L110.75,453 Z" fill="#dedede" stroke="#7c7c7c" stroke-width="0.7" stroke-linejoin="round" /><g><circle cx="97.6" cy="479.3" r="8.75" fill="#fff" stroke="#6a6a6a" stroke-width="0.7" /><path d="M76.6,503 L106,503 Q115.5,503 115.5,494 L115.5,461" fill="none" stroke="#6e6e6e" stroke-width="4.2" stroke-linejoin="round" /><path d="M76.6,503 L106,503 Q115.5,503 115.5,494 L115.5,461" fill="none" stroke="#eeeeee" stroke-width="2.4" stroke-linejoin="round" /><path d="M126,436.5 L126,450 M135,436.5 L135,449" fill="none" stroke="#8a8a8a" stroke-width="0.6" stroke-linejoin="round" /><circle cx="130.5" cy="453.5" r="4.5" fill="#f4f4f4" stroke="#888" stroke-width="0.6" /><path d="M119.5,516 Q119.5,549.3 155,549.3 L240,549.3 L298,486" fill="none" stroke="#6e6e6e" stroke-width="4.4" stroke-linejoin="round" /><path d="M119.5,516 Q119.5,549.3 155,549.3 L240,549.3 L298,486" fill="none" stroke="#f0f0f0" stroke-width="2.6" stroke-linejoin="round" /><path d="M119.5,460.5 L119.5,517" fill="none" stroke="#6a6a6a" stroke-width="4.6" stroke-linejoin="round" stroke-linecap="butt"/><path d="M120.6,461 L120.6,516" fill="none" stroke="#bdbdbd" stroke-width="2.0" stroke-linejoin="round" stroke-linecap="butt"/><path d="M174,531 Q196,541 217,527" fill="none" stroke="#6e6e6e" stroke-width="4.2" stroke-linejoin="round" /><path d="M174,531 Q196,541 217,527" fill="none" stroke="#f0f0f0" stroke-width="2.4" stroke-linejoin="round" /><path d="M174,436.5 L174,446 L180,446 L180,436.5" fill="#f2f2f2" stroke="#888" stroke-width="0.5" stroke-linejoin="round" /><path d="M94,541.4 L115,541.4 Q123,541.4 123,549.7 Q123,558 115,558 L94,558 Z" fill="#5a5a5a" stroke="#444" stroke-width="0.5" stroke-linejoin="round" /><path d="M102,558 Q110,549 120,541.4 L123,545 Q114,552 108,558 Z" fill="#8a8a8a" stroke="none" stroke-width="0" stroke-linejoin="round" /><path d="M94,541.4 L101,541.4 L101,558 L94,558 Z" fill="#fafafa" stroke="#555" stroke-width="0.5" stroke-linejoin="round" /><path d="M278,541.6 L298,541.6 L298,558.3 L278,558.3 Q269.5,558.3 269.5,550 Q269.5,541.6 278,541.6 Z" fill="#6e6e6e" stroke="#444" stroke-width="0.5" stroke-linejoin="round" /><path d="M289,541.6 L298,541.6 L298,558.3 L289,558.3 Z" fill="#c4c4c4" stroke="#444" stroke-width="0.4" stroke-linejoin="round" /><circle cx="283" cy="550" r="3" fill="#9a9a9a" stroke="#333" stroke-width="0.5" /><path d="M308.7,502.5 L317,506 L323,512 L317,525 L308.7,528.6 Z" fill="#f4efb4" stroke="#9a9a80" stroke-width="0.5" stroke-linejoin="round" /><path d="M308.7,534.5 L317,534.5 L317,558 L308.7,558 Z" fill="#575757" stroke="#444" stroke-width="0.4" stroke-linejoin="round" /><path d="M278.5,466 Q280,456 293.6,455.5 Q305,456 309,466 L313,480.6 L307.6,490.8 Q296,488 286,482 Q277.5,476 278.5,466 Z" fill="#5e5e5e" stroke="#3a3a3a" stroke-width="0.6" stroke-linejoin="round" /><circle cx="293.6" cy="471.6" r="8.4" fill="#fff" stroke="#333" stroke-width="0.8" /><path d="M264,466 L275,466 Q278,466 278,469 L278,485.5 Q278,488.5 275,488.5 L264,488.5 Z" fill="#f2f2f2" stroke="#666" stroke-width="0.6" stroke-linejoin="round" /><path d="M257,452 L264.5,452 L264.5,472 L273,475 L273,488 L259,488 Q249,487 249,478 L249,471 Q250,465 256.5,463 Z" fill="url(#lever)" stroke="#444" stroke-width="0.6" stroke-linejoin="round" /><path d="M256,475 L272,478 M256,482 L272,484" fill="none" stroke="#bbb" stroke-width="0.7" stroke-linejoin="round" /><circle cx="262.6" cy="450.3" r="4.5" fill="#505050" stroke="#2e2e2e" stroke-width="0.5" /><path d="M210,452 Q228,456 234,478 L224,480 Q222,466 208,460 Z" fill="#f2dc90" stroke="#8a7a50" stroke-width="0.5" stroke-linejoin="round" /><circle cx="218.8" cy="461" r="3.5" fill="none" stroke="#9a8a50" stroke-width="0.6" /><path d="M208,475 L224,478 L226,500 L210,499 Z" fill="#f7a200" stroke="#6a4a00" stroke-width="0.4" stroke-linejoin="round" /><path d="M224,479 L233,479 Q236,490 232.5,500 L224,500 Z" fill="#f4f4f4" stroke="#666" stroke-width="0.5" stroke-linejoin="round" /><path d="M212,500 L230,500 L229,513 L212,512 Z" fill="#8c8c8c" stroke="#444" stroke-width="0.4" stroke-linejoin="round" /><path d="M210,511 L227,512 Q224,522 215,529 L208,527 Z" fill="#f7a200" stroke="#6a4a00" stroke-width="0.4" stroke-linejoin="round" /><path d="M208,447 L216,445 L222,453 L212,455 Z" fill="#6a6a6a" stroke="#444" stroke-width="0.4" stroke-linejoin="round" /><circle cx="178.3" cy="487.4" r="43.6" fill="url(#gold)" stroke="#8a7a60" stroke-width="0.6" /><path d="M173,462.5 L197.5,462 Q209,464 212,474 Q214,486 211,498 Q206,511 197.5,512.5 L173,511 Q168,510 169,504 Q170,499 176,498 L200,497.5 Q208,496 208,487.5 Q208,478 200,477.5 L176,477 Q169,476 169,470 Q169,463 173,462.5 Z" fill="#e8e8e8" stroke="#666" stroke-width="0.7" stroke-linejoin="round" /><path d="M176,465 L200,465 M176,509 L200,509" fill="none" stroke="#999" stroke-width="0.6" stroke-linejoin="round" /><path d="M181,471 L187,471 L187,505 L181,505 Z" fill="#f2f2f2" stroke="#666" stroke-width="0.6" stroke-linejoin="round" /><circle cx="200" cy="487.5" r="4.5" fill="#d0d0d0" stroke="#555" stroke-width="0.6" /><circle cx="200" cy="487.5" r="2.2" fill="#aaa" stroke="#666" stroke-width="0.5" /></g><g transform="translate(0,1178.4) scale(1,-1)"><circle cx="97.6" cy="479.3" r="8.75" fill="#fff" stroke="#6a6a6a" stroke-width="0.7" /><path d="M76.6,503 L106,503 Q115.5,503 115.5,494 L115.5,461" fill="none" stroke="#6e6e6e" stroke-width="4.2" stroke-linejoin="round" /><path d="M76.6,503 L106,503 Q115.5,503 115.5,494 L115.5,461" fill="none" stroke="#eeeeee" stroke-width="2.4" stroke-linejoin="round" /><path d="M126,436.5 L126,450 M135,436.5 L135,449" fill="none" stroke="#8a8a8a" stroke-width="0.6" stroke-linejoin="round" /><circle cx="130.5" cy="453.5" r="4.5" fill="#f4f4f4" stroke="#888" stroke-width="0.6" /><path d="M119.5,516 Q119.5,549.3 155,549.3 L240,549.3 L298,486" fill="none" stroke="#6e6e6e" stroke-width="4.4" stroke-linejoin="round" /><path d="M119.5,516 Q119.5,549.3 155,549.3 L240,549.3 L298,486" fill="none" stroke="#f0f0f0" stroke-width="2.6" stroke-linejoin="round" /><path d="M119.5,460.5 L119.5,517" fill="none" stroke="#6a6a6a" stroke-width="4.6" stroke-linejoin="round" stroke-linecap="butt"/><path d="M120.6,461 L120.6,516" fill="none" stroke="#bdbdbd" stroke-width="2.0" stroke-linejoin="round" stroke-linecap="butt"/><path d="M174,531 Q196,541 217,527" fill="none" stroke="#6e6e6e" stroke-width="4.2" stroke-linejoin="round" /><path d="M174,531 Q196,541 217,527" fill="none" stroke="#f0f0f0" stroke-width="2.4" stroke-linejoin="round" /><path d="M174,436.5 L174,446 L180,446 L180,436.5" fill="#f2f2f2" stroke="#888" stroke-width="0.5" stroke-linejoin="round" /><path d="M94,541.4 L115,541.4 Q123,541.4 123,549.7 Q123,558 115,558 L94,558 Z" fill="#5a5a5a" stroke="#444" stroke-width="0.5" stroke-linejoin="round" /><path d="M102,558 Q110,549 120,541.4 L123,545 Q114,552 108,558 Z" fill="#8a8a8a" stroke="none" stroke-width="0" stroke-linejoin="round" /><path d="M94,541.4 L101,541.4 L101,558 L94,558 Z" fill="#fafafa" stroke="#555" stroke-width="0.5" stroke-linejoin="round" /><path d="M278,541.6 L298,541.6 L298,558.3 L278,558.3 Q269.5,558.3 269.5,550 Q269.5,541.6 278,541.6 Z" fill="#6e6e6e" stroke="#444" stroke-width="0.5" stroke-linejoin="round" /><path d="M289,541.6 L298,541.6 L298,558.3 L289,558.3 Z" fill="#c4c4c4" stroke="#444" stroke-width="0.4" stroke-linejoin="round" /><circle cx="283" cy="550" r="3" fill="#9a9a9a" stroke="#333" stroke-width="0.5" /><path d="M308.7,502.5 L317,506 L323,512 L317,525 L308.7,528.6 Z" fill="#f4efb4" stroke="#9a9a80" stroke-width="0.5" stroke-linejoin="round" /><path d="M308.7,534.5 L317,534.5 L317,558 L308.7,558 Z" fill="#575757" stroke="#444" stroke-width="0.4" stroke-linejoin="round" /><path d="M278.5,466 Q280,456 293.6,455.5 Q305,456 309,466 L313,480.6 L307.6,490.8 Q296,488 286,482 Q277.5,476 278.5,466 Z" fill="#5e5e5e" stroke="#3a3a3a" stroke-width="0.6" stroke-linejoin="round" /><circle cx="293.6" cy="471.6" r="8.4" fill="#fff" stroke="#333" stroke-width="0.8" /><path d="M264,466 L275,466 Q278,466 278,469 L278,485.5 Q278,488.5 275,488.5 L264,488.5 Z" fill="#f2f2f2" stroke="#666" stroke-width="0.6" stroke-linejoin="round" /><path d="M257,452 L264.5,452 L264.5,472 L273,475 L273,488 L259,488 Q249,487 249,478 L249,471 Q250,465 256.5,463 Z" fill="url(#lever)" stroke="#444" stroke-width="0.6" stroke-linejoin="round" /><path d="M256,475 L272,478 M256,482 L272,484" fill="none" stroke="#bbb" stroke-width="0.7" stroke-linejoin="round" /><circle cx="262.6" cy="450.3" r="4.5" fill="#505050" stroke="#2e2e2e" stroke-width="0.5" /><path d="M210,452 Q228,456 234,478 L224,480 Q222,466 208,460 Z" fill="#f2dc90" stroke="#8a7a50" stroke-width="0.5" stroke-linejoin="round" /><circle cx="218.8" cy="461" r="3.5" fill="none" stroke="#9a8a50" stroke-width="0.6" /><path d="M208,475 L224,478 L226,500 L210,499 Z" fill="#f7a200" stroke="#6a4a00" stroke-width="0.4" stroke-linejoin="round" /><path d="M224,479 L233,479 Q236,490 232.5,500 L224,500 Z" fill="#f4f4f4" stroke="#666" stroke-width="0.5" stroke-linejoin="round" /><path d="M212,500 L230,500 L229,513 L212,512 Z" fill="#8c8c8c" stroke="#444" stroke-width="0.4" stroke-linejoin="round" /><path d="M210,511 L227,512 Q224,522 215,529 L208,527 Z" fill="#f7a200" stroke="#6a4a00" stroke-width="0.4" stroke-linejoin="round" /><path d="M208,447 L216,445 L222,453 L212,455 Z" fill="#6a6a6a" stroke="#444" stroke-width="0.4" stroke-linejoin="round" /><circle cx="178.3" cy="487.4" r="43.6" fill="url(#gold)" stroke="#8a7a60" stroke-width="0.6" /><path d="M173,462.5 L197.5,462 Q209,464 212,474 Q214,486 211,498 Q206,511 197.5,512.5 L173,511 Q168,510 169,504 Q170,499 176,498 L200,497.5 Q208,496 208,487.5 Q208,478 200,477.5 L176,477 Q169,476 169,470 Q169,463 173,462.5 Z" fill="#e8e8e8" stroke="#666" stroke-width="0.7" stroke-linejoin="round" /><path d="M176,465 L200,465 M176,509 L200,509" fill="none" stroke="#999" stroke-width="0.6" stroke-linejoin="round" /><path d="M181,471 L187,471 L187,505 L181,505 Z" fill="#f2f2f2" stroke="#666" stroke-width="0.6" stroke-linejoin="round" /><circle cx="200" cy="487.5" r="4.5" fill="#d0d0d0" stroke="#555" stroke-width="0.6" /><circle cx="200" cy="487.5" r="2.2" fill="#aaa" stroke="#666" stroke-width="0.5" /></g><path d="M193,437.5 Q215,434 232,441 L255,452.5" fill="none" stroke="#3a3a3a" stroke-width="1.5" stroke-linejoin="round" /><path d="M178,742.5 Q197,747 216,741" fill="none" stroke="#505050" stroke-width="1.8" stroke-linejoin="round" /><path d="M135,562 L255,562 Q258,562 258,565 Q258,568 255,568 L135,568 Q132,568 132,565 Q132,562 135,562 Z" fill="#ececec" stroke="#777" stroke-width="0.6" stroke-linejoin="round" /><path d="M135,609.2 L173,609.2 Q176,609.2 176,612.2 Q176,615.2 173,615.2 L135,615.2 Q132,615.2 132,612.2 Q132,609.2 135,609.2 Z" fill="#ececec" stroke="#777" stroke-width="0.6" stroke-linejoin="round" /><path d="M219,609.2 L255,609.2 Q258,609.2 258,612.2 Q258,615.2 255,615.2 L219,615.2 Q216,615.2 216,612.2 Q216,609.2 219,609.2 Z" fill="#ececec" stroke="#777" stroke-width="0.6" stroke-linejoin="round" /><path d="M63,573 L104,572 Q118,574 118,589 Q118,604 104,606 L63,605 A16,16 0 0 1 63,573 Z" fill="#5c5c5c" stroke="#3a3a3a" stroke-width="0.7" stroke-linejoin="round" /><path d="M78,574 L104,574 Q114,589 104,604 L78,604 Q74,589 78,574 Z" fill="#4e4e4e" stroke="#3c3c3c" stroke-width="0.5" stroke-linejoin="round" /><path d="M108,576 Q114,589 108,602" fill="none" stroke="#8a8a8a" stroke-width="1.2" stroke-linejoin="round" /><circle cx="63" cy="589" r="9" fill="#fff" stroke="#333" stroke-width="0.8" /><path d="M319,568 Q330,571 340,571 A17.5,17.5 0 0 1 340,606 Q330,606 319,610 Z" fill="#dedede" stroke="#7c7c7c" stroke-width="0.6" stroke-linejoin="round" /><path d="M316,572 Q309,589 316,606" fill="none" stroke="#f8f8f8" stroke-width="2.2" stroke-linejoin="round" /><path d="M318.5,572 Q312,589 318.5,606" fill="none" stroke="#8a8a8a" stroke-width="0.5" stroke-linejoin="round" /><ellipse cx="342" cy="588.5" rx="12" ry="9" fill="#fff" stroke="#555" stroke-width="0.7"/><path d="M182,601 L209.5,601 L209.5,623 L182,623 Z" fill="#6a6a6a" stroke="#333" stroke-width="0.6" stroke-linejoin="round" /><path d="M184,600 L206,600 L206,604 L184,604 Z" fill="#e8c440" stroke="#333" stroke-width="0.4" stroke-linejoin="round" /><path d="M182,601 L188,601 L188,610 L182,610 Z" fill="#f6f6f6" stroke="#444" stroke-width="0.4" stroke-linejoin="round" /><path d="M190,606 L204,606 L204,622 L190,622 Z" fill="#a8a8a8" stroke="#444" stroke-width="0.4" stroke-linejoin="round" /></g>
<line x1="540.5" y1="97" x2="675" y2="97" stroke="#1e1e1e" stroke-width="0.9" /><line x1="540.5" y1="93" x2="540.5" y2="139" stroke="#1e1e1e" stroke-width="0.9" /><line x1="675" y1="93" x2="675" y2="145" stroke="#1e1e1e" stroke-width="0.9" /><path d="M540.5,97 L546.50,95.40 L546.50,98.60 Z" fill="#1e1e1e"/><path d="M608,97 L602.00,98.60 L602.00,95.40 Z" fill="#1e1e1e"/><path d="M608,97 L614.00,95.40 L614.00,98.60 Z" fill="#1e1e1e"/><path d="M675,97 L669.00,98.60 L669.00,95.40 Z" fill="#1e1e1e"/><text x="560" y="95.5" font-family="Liberation Serif, serif" font-size="13.5" fill="#2a2a2a" text-anchor="start" letter-spacing="0" textLength="27.5" lengthAdjust="spacing">20.2</text><text x="627.5" y="95.5" font-family="Liberation Serif, serif" font-size="13.5" fill="#2a2a2a" text-anchor="start" letter-spacing="0" textLength="27.5" lengthAdjust="spacing">20.2</text><line x1="425" y1="140" x2="540" y2="140" stroke="#1e1e1e" stroke-width="0.9" /><line x1="425" y1="300" x2="540" y2="300" stroke="#1e1e1e" stroke-width="0.9" /><line x1="428.2" y1="140" x2="428.2" y2="300" stroke="#1e1e1e" stroke-width="0.9" /><path d="M428.2,140 L429.80,146.00 L426.60,146.00 Z" fill="#1e1e1e"/><path d="M428.2,300 L426.60,294.00 L429.80,294.00 Z" fill="#1e1e1e"/><text x="427.3" y="220.4" font-family="Liberation Serif, serif" font-size="13.5" fill="#2a2a2a" text-anchor="middle" letter-spacing="0" transform="rotate(-90 427.3 220.4)">48</text><line x1="675" y1="145" x2="737" y2="145" stroke="#1e1e1e" stroke-width="0.9" /><line x1="675" y1="294.5" x2="737" y2="294.5" stroke="#1e1e1e" stroke-width="0.9" /><line x1="733.7" y1="145" x2="733.7" y2="294.5" stroke="#1e1e1e" stroke-width="0.9" /><path d="M733.7,145 L735.30,151.00 L732.10,151.00 Z" fill="#1e1e1e"/><path d="M733.7,294.5 L732.10,288.50 L735.30,288.50 Z" fill="#1e1e1e"/><text x="732.3" y="219.5" font-family="Liberation Serif, serif" font-size="13.5" fill="#2a2a2a" text-anchor="middle" letter-spacing="0" transform="rotate(-90 732.3 219.5)">45</text><line x1="457.8" y1="85" x2="522.5" y2="199.4" stroke="#1e1e1e" stroke-width="0.9" /><path d="M505.6,168.4 L500.77,163.09 L503.56,161.52 Z" fill="#1e1e1e"/><path d="M517.8,190 L522.63,195.31 L519.84,196.88 Z" fill="#1e1e1e"/><line x1="505" y1="174" x2="530" y2="160" stroke="#1e1e1e" stroke-width="0.9" /><line x1="512" y1="189" x2="535" y2="176" stroke="#1e1e1e" stroke-width="0.9" /><text x="461.5" y="86.5" font-family="Liberation Serif, serif" font-size="13.5" fill="#2a2a2a" text-anchor="start" letter-spacing="0" transform="rotate(60.5 461.5 86.5)" textLength="63" lengthAdjust="spacing">2-1.8*0.5</text><line x1="475.6" y1="213.4" x2="502" y2="213.4" stroke="#1e1e1e" stroke-width="0.9" /><line x1="475.6" y1="225.6" x2="502" y2="225.6" stroke="#1e1e1e" stroke-width="0.9" /><line x1="478.4" y1="200.6" x2="478.4" y2="239" stroke="#1e1e1e" stroke-width="0.9" /><path d="M478.4,213.4 L476.80,208.40 L480.00,208.40 Z" fill="#1e1e1e"/><path d="M478.4,225.6 L480.00,230.60 L476.80,230.60 Z" fill="#1e1e1e"/><text x="476.5" y="246.6" font-family="Liberation Serif, serif" font-size="13.5" fill="#2a2a2a" text-anchor="start" letter-spacing="0" transform="rotate(-90 476.5 246.6)" textLength="52.6" lengthAdjust="spacing">3.6±0.1</text><line x1="429.7" y1="269.4" x2="522.5" y2="269.4" stroke="#1e1e1e" stroke-width="0.9" /><line x1="500" y1="221" x2="500" y2="272" stroke="#1e1e1e" stroke-width="0.9" /><line x1="515" y1="221" x2="515" y2="272" stroke="#1e1e1e" stroke-width="0.9" /><path d="M500,269.4 L495.00,271.00 L495.00,267.80 Z" fill="#1e1e1e"/><path d="M515,269.4 L520.00,267.80 L520.00,271.00 Z" fill="#1e1e1e"/><text x="431.6" y="267.2" font-family="Liberation Serif, serif" font-size="13.5" fill="#2a2a2a" text-anchor="start" letter-spacing="0" textLength="52.4" lengthAdjust="spacing">4.6±0.1</text><line x1="662" y1="288" x2="704" y2="309" stroke="#1e1e1e" stroke-width="0.9" /><line x1="704" y1="309" x2="779" y2="309" stroke="#1e1e1e" stroke-width="0.9" /><path d="M672,293 L665.92,291.75 L667.35,288.89 Z" fill="#1e1e1e"/><text x="703" y="307.7" font-family="Liberation Serif, serif" font-size="13.5" fill="#2a2a2a" text-anchor="start" letter-spacing="0" textLength="75" lengthAdjust="spacing">2-ø3.6±0.1</text><line x1="608.2" y1="92.75" x2="608.2" y2="342" stroke="#e83030" stroke-width="1.0" stroke-dasharray="217 3 8 2.5 10.5 3 5"/><line x1="489.5" y1="219.5" x2="711" y2="219.5" stroke="#e83030" stroke-width="1.0" stroke-dasharray="26.25 3 3.75 3 122.5 4.5 5.25 3.75 20.25 4.5 25"/>
<path d="M570,527.4 L637.5,527.4" fill="none" stroke="#1e1e1e" stroke-width="1.7" stroke-linejoin="miter"/><path d="M572,529.5 Q574,533 580,533 L632,533 Q636,531 638,529" fill="none" stroke="#1e1e1e" stroke-width="0.95" stroke-linejoin="miter"/><path d="M583,533 Q592,540 600,534 Q612,537 625,532" fill="none" stroke="#1e1e1e" stroke-width="0.8" stroke-linejoin="miter"/><path d="M590,534 L600,530 M605,533 L615,529 M618,532 L628,530" fill="none" stroke="#1e1e1e" stroke-width="0.6" stroke-linejoin="miter"/><path d="M637,538.7 Q640,531.5 645,529 L654.5,529 L654.5,531.5 L646,531.5 Q641,533 640.5,538.7" fill="none" stroke="#1e1e1e" stroke-width="0.95" stroke-linejoin="miter"/><path d="M471.5,549.3 L495,549.3 L497.5,545.6 L516.25,545.6 L518.75,537.5 L646.6,537.5 Q648.7,540 648.7,546 L680.3,546 L680.3,549.5" fill="none" stroke="#1e1e1e" stroke-width="0.95" stroke-linejoin="miter"/><path d="M471.5,553.2 L495,553.2 L499,548.3 L518,548.3 L520.5,540.6 L644,540.6 Q646,543 646,547.5 Q648,549.5 652,549.5 L680.3,549.5" fill="none" stroke="#1e1e1e" stroke-width="0.95" stroke-linejoin="miter"/><path d="M498,548.5 L646,548.5" fill="none" stroke="#1e1e1e" stroke-width="0.7" stroke-linejoin="miter"/><path d="M500,551 L640,551" fill="none" stroke="#1e1e1e" stroke-width="0.6" stroke-linejoin="miter"/><path d="M527.5,535.6 L530,529.4 L546,529.4 L551.25,535.6" fill="none" stroke="#1e1e1e" stroke-width="0.95" stroke-linejoin="miter"/><path d="M533,535.6 L537,530 M540,535.6 L540,530 M547,535.6 L543,530" fill="none" stroke="#1e1e1e" stroke-width="0.7" stroke-linejoin="miter"/><path d="M500,548.75 L500,562.5 L507.5,562.5" fill="none" stroke="#1e1e1e" stroke-width="0.95" stroke-linejoin="miter"/><path d="M507.5,575.6 L497,581.9 L507.5,581.9 M499,580 L507.5,577" fill="none" stroke="#1e1e1e" stroke-width="0.8" stroke-linejoin="miter"/><path d="M507.5,556.9 L529.4,556.9 L529.4,589.4 L507.5,589.4 Z" fill="none" stroke="#1e1e1e" stroke-width="0.95" stroke-linejoin="miter"/><path d="M503.75,589.4 L531.9,589.4 L531.9,603.1 L503.75,603.1 Z" fill="none" stroke="#1e1e1e" stroke-width="0.95" stroke-linejoin="miter"/><path d="M503.75,591 L506,591 L506,597 L503.75,597" fill="none" stroke="#1e1e1e" stroke-width="0.7" stroke-linejoin="miter"/><path d="M516.9,603.1 L516.9,617.5 L536.25,617.5 L536.25,590" fill="none" stroke="#1e1e1e" stroke-width="0.95" stroke-linejoin="miter"/><path d="M519.4,603.1 L519.4,617.5 M523.75,603.1 L523.75,617.5" fill="none" stroke="#1e1e1e" stroke-width="0.7" stroke-linejoin="miter"/><path d="M529.4,548 L529.4,590 L536.25,590" fill="none" stroke="#1e1e1e" stroke-width="0.95" stroke-linejoin="miter"/><path d="M529.4,556.9 L564,556.9" fill="none" stroke="#1e1e1e" stroke-width="0.95" stroke-linejoin="miter"/><path d="M535,556.9 L535,553 L547.5,553 L547.5,550.6 L567.5,550.6" fill="none" stroke="#1e1e1e" stroke-width="0.95" stroke-linejoin="miter"/><path d="M551.25,556.9 L551.25,591.25 L557.5,591.25 L557.5,556.9" fill="none" stroke="#1e1e1e" stroke-width="0.95" stroke-linejoin="miter"/><path d="M538,596.25 L538,582 Q541.8,578 545.6,582 L545.6,596.25" fill="none" stroke="#1e1e1e" stroke-width="0.95" stroke-linejoin="miter"/><path d="M529.4,590 L565,590 M529.4,595.6 L565,595.6" fill="none" stroke="#1e1e1e" stroke-width="0.8" stroke-linejoin="miter"/><path d="M561.25,595.6 L561.25,617.5 L565.5,617.5 L565.5,549" fill="none" stroke="#1e1e1e" stroke-width="0.95" stroke-linejoin="miter"/><path d="M561.5,549 L561.5,595.6" fill="none" stroke="#1e1e1e" stroke-width="0.7" stroke-linejoin="miter"/><path d="M567.5,541 L582.5,541 L582.5,556.7" fill="none" stroke="#1e1e1e" stroke-width="0.95" stroke-linejoin="miter"/><path d="M564,556.7 L594.3,556.7 L594.3,588.2" fill="none" stroke="#1e1e1e" stroke-width="0.95" stroke-linejoin="miter"/><path d="M565,585.6 Q580,590 594.3,588.2 L608.8,588.2 L608.8,596 L565,596" fill="none" stroke="#1e1e1e" stroke-width="0.85" stroke-linejoin="miter"/><path d="M568,587 Q580,592 590,590" fill="none" stroke="#1e1e1e" stroke-width="0.7" stroke-linejoin="miter"/><path d="M587.8,596 Q591,601 594.3,596" fill="none" stroke="#1e1e1e" stroke-width="0.7" stroke-linejoin="miter"/><path d="M601,589.5 L601,582 Q604.9,576 608.8,582 L608.8,589.5" fill="none" stroke="#1e1e1e" stroke-width="0.95" stroke-linejoin="miter"/><path d="M601.6,549 L601.6,571 L639.4,571 L639.4,610.6" fill="none" stroke="#1e1e1e" stroke-width="0.95" stroke-linejoin="miter"/><path d="M607.5,571 L607.5,564.5 L610,564.5 L610,571 M628.4,571 L628.4,562.5 L632.4,562.5 L632.4,571" fill="none" stroke="#1e1e1e" stroke-width="0.8" stroke-linejoin="miter"/><path d="M635.5,549 L635.5,571" fill="none" stroke="#1e1e1e" stroke-width="0.8" stroke-linejoin="miter"/><path d="M565.5,610.5 L639.4,610.5 L647.3,610.6 L647.3,617 L656,617" fill="none" stroke="#1e1e1e" stroke-width="0.95" stroke-linejoin="miter"/><path d="M680.3,549.5 L680.3,553 L682.5,553 L682.5,562.4 L671,562.4 Q658,566 656,579.7 L656,617 L664.5,617 L664.5,575.4 Q665,567 671,564" fill="none" stroke="#1e1e1e" stroke-width="0.95" stroke-linejoin="miter"/><path d="M659,617 L659,581 Q661,569 668,564" fill="none" stroke="#1e1e1e" stroke-width="0.6" stroke-linejoin="miter"/><path d="M688.25,548 L701.2,548 L701.2,584.7 L688.25,584.7 Z" fill="none" stroke="#1e1e1e" stroke-width="0.95" stroke-linejoin="miter"/><path d="M691,548 L691,584.7" fill="none" stroke="#1e1e1e" stroke-width="0.8" stroke-linejoin="miter"/><path d="M688.25,584.7 L702.2,584.7 L702.2,602.7 L688.25,602.7 Z" fill="none" stroke="#1e1e1e" stroke-width="0.95" stroke-linejoin="miter"/><line x1="428" y1="623.2" x2="725" y2="623.2" stroke="#1e1e1e" stroke-width="0.9" /><line x1="664.5" y1="602.7" x2="725" y2="602.7" stroke="#1e1e1e" stroke-width="0.9" /><line x1="428" y1="528.9" x2="570" y2="528.9" stroke="#1e1e1e" stroke-width="0.9" /><line x1="432" y1="528.9" x2="432" y2="623.2" stroke="#1e1e1e" stroke-width="0.9" /><path d="M432,528.9 L433.70,536.90 L430.30,536.90 Z" fill="#1e1e1e"/><path d="M432,623.2 L430.30,615.20 L433.70,615.20 Z" fill="#1e1e1e"/><text x="430" y="607" font-family="Liberation Serif, serif" font-size="14.5" fill="#2a2a2a" text-anchor="start" letter-spacing="0" transform="rotate(-90 430 607)" textLength="58" lengthAdjust="spacing">26±0.15</text><line x1="479.75" y1="521.25" x2="539" y2="521.25" stroke="#1e1e1e" stroke-width="0.9" /><line x1="479.75" y1="521.25" x2="479.75" y2="549.5" stroke="#1e1e1e" stroke-width="0.9" /><path d="M479.75,536 L481.15,542.00 L478.35,542.00 Z" fill="#1e1e1e"/><path d="M479.75,542 L478.35,536.00 L481.15,536.00 Z" fill="#1e1e1e"/><text x="481" y="519.75" font-family="Liberation Serif, serif" font-size="14.5" fill="#2a2a2a" text-anchor="start" letter-spacing="0" textLength="57" lengthAdjust="spacing">5.7±0.1</text><line x1="522.5" y1="623" x2="522.5" y2="652" stroke="#1e1e1e" stroke-width="0.9" /><line x1="660.2" y1="617" x2="660.2" y2="652" stroke="#1e1e1e" stroke-width="0.9" /><line x1="522.5" y1="648" x2="660.2" y2="648" stroke="#1e1e1e" stroke-width="0.9" /><path d="M522.5,648 L530.50,646.30 L530.50,649.70 Z" fill="#1e1e1e"/><path d="M660.2,648 L652.20,649.70 L652.20,646.30 Z" fill="#1e1e1e"/><text x="556" y="646" font-family="Liberation Serif, serif" font-size="14.5" fill="#2a2a2a" text-anchor="start" letter-spacing="0" textLength="70" lengthAdjust="spacing">ø38±0.15</text><line x1="721" y1="588.4" x2="780" y2="588.4" stroke="#1e1e1e" stroke-width="0.9" /><line x1="721" y1="588.4" x2="721" y2="623.6" stroke="#1e1e1e" stroke-width="0.9" /><path d="M721,609 L722.40,615.00 L719.60,615.00 Z" fill="#1e1e1e"/><path d="M721,617 L719.60,611.00 L722.40,611.00 Z" fill="#1e1e1e"/><text x="723" y="586" font-family="Liberation Serif, serif" font-size="14.5" fill="#2a2a2a" text-anchor="start" letter-spacing="0" textLength="57" lengthAdjust="spacing">5.5±0.1</text><line x1="591.75" y1="517.3" x2="591.75" y2="636.75" stroke="#e83030" stroke-width="1.0" stroke-dasharray="45 3 10 3 10 3 10 3 10 3 20"/>
</svg>
</body></html>
